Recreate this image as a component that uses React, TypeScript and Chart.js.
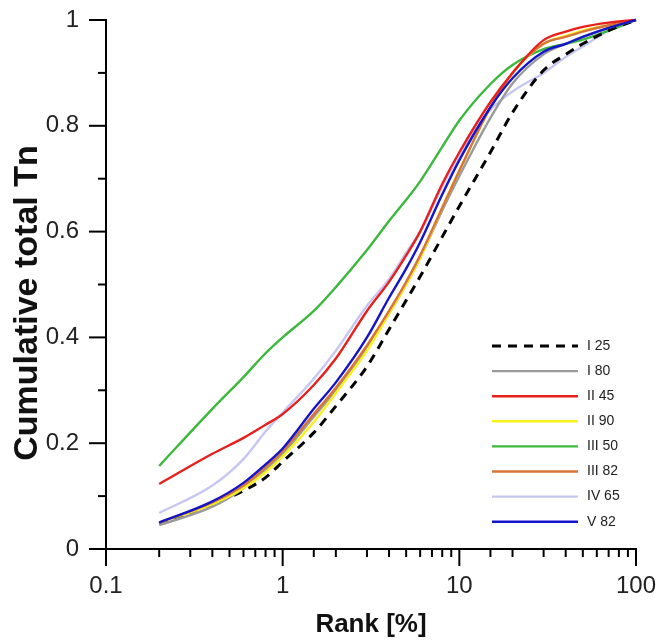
import React, { useEffect, useRef } from "react";
import { Chart, registerables } from "chart.js";

Chart.register(...registerables);

// Rank [%] sample positions
const ranks = [0.2, 0.4, 0.6, 0.8, 1, 1.5, 2, 3, 4, 5, 6, 8, 10, 15, 20, 30, 40, 50, 70, 100];

// Cumulative total Tn per series
const seriesI25 = [0.048, 0.085, 0.11, 0.135, 0.165, 0.22, 0.27, 0.345, 0.415, 0.47, 0.515, 0.59, 0.648, 0.75, 0.825, 0.905, 0.935, 0.955, 0.98, 1];
const seriesI80 = [0.045, 0.08, 0.115, 0.15, 0.18, 0.25, 0.3, 0.38, 0.445, 0.5, 0.55, 0.64, 0.705, 0.815, 0.88, 0.935, 0.955, 0.968, 0.985, 1];
const seriesII45 = [0.123, 0.18, 0.21, 0.235, 0.255, 0.31, 0.36, 0.45, 0.505, 0.555, 0.6, 0.69, 0.75, 0.845, 0.9, 0.962, 0.978, 0.987, 0.995, 1];
const seriesII90 = [0.05, 0.085, 0.115, 0.145, 0.175, 0.24, 0.295, 0.375, 0.445, 0.5, 0.55, 0.645, 0.715, 0.835, 0.9, 0.955, 0.97, 0.98, 0.99, 1];
const seriesIII50 = [0.157, 0.265, 0.325, 0.37, 0.4, 0.45, 0.495, 0.565, 0.62, 0.66, 0.695, 0.76, 0.81, 0.879, 0.915, 0.945, 0.955, 0.963, 0.98, 1];
const seriesIII82 = [0.05, 0.088, 0.12, 0.155, 0.185, 0.255, 0.305, 0.385, 0.45, 0.505, 0.555, 0.645, 0.715, 0.835, 0.9, 0.955, 0.968, 0.978, 0.99, 1];
const seriesIV65 = [0.068, 0.12, 0.17, 0.222, 0.258, 0.322, 0.375, 0.46, 0.51, 0.56, 0.6, 0.685, 0.745, 0.83, 0.865, 0.9, 0.93, 0.95, 0.98, 1];
const seriesV82 = [0.05, 0.09, 0.125, 0.16, 0.19, 0.265, 0.315, 0.4, 0.475, 0.53, 0.58, 0.67, 0.735, 0.835, 0.89, 0.94, 0.955, 0.968, 0.985, 1];

const seriesNames = ["I 25", "I 80", "II 45", "II 90", "III 50", "III 82", "IV 65", "V 82"];
const seriesValues = [seriesI25, seriesI80, seriesII45, seriesII90, seriesIII50, seriesIII82, seriesIV65, seriesV82];
const seriesColors = ["#000000", "#9a9a9a", "#e8201c", "#f7f21a", "#3cb83c", "#d8743a", "#c6c6f2", "#1414c8"];
const seriesDrawOrder = [6, 5, 1, 4, 7, 3, 8, 0];

const xTickLabels = [0.1, 1, 10, 100];
const yTickLabels = [0, 0.2, 0.4, 0.6, 0.8, 1];

const xTitle = "Rank [%]";
const yTitle = "Cumulative total Tn";

const FONT = "'Liberation Sans', Arial, sans-serif";

const isMajorX = (v: number) => xTickLabels.some((t) => Math.abs(t - v) < 1e-9);
const isMajorY = (v: number) => yTickLabels.some((t) => Math.abs(t - v) < 1e-6);

const tickPlugin = {
  id: "customTicks",
  afterDraw(chart: any) {
    const ctx = chart.ctx;
    const xs = chart.scales.x;
    const ys = chart.scales.y;
    const area = chart.chartArea;
    ctx.save();
    ctx.strokeStyle = "#000";
    ctx.lineWidth = 2;
    ctx.lineCap = "butt";
    xs.ticks.forEach((t: any) => {
      const px = xs.getPixelForValue(t.value);
      const len = isMajorX(t.value) ? 17 : 8;
      ctx.beginPath();
      ctx.moveTo(px, area.bottom);
      ctx.lineTo(px, area.bottom + len);
      ctx.stroke();
    });
    ys.ticks.forEach((t: any) => {
      const py = ys.getPixelForValue(t.value);
      const len = isMajorY(t.value) ? 17 : 8;
      ctx.beginPath();
      ctx.moveTo(area.left, py);
      ctx.lineTo(area.left - len, py);
      ctx.stroke();
    });
    ctx.restore();
  },
};

const yTitlePlugin = {
  id: "yTitle",
  afterDraw(chart: any) {
    const ctx = chart.ctx;
    ctx.save();
    ctx.translate(28, 303);
    ctx.rotate(-Math.PI / 2);
    ctx.font = `bold 34px ${FONT}`;
    ctx.fillStyle = "#111";
    ctx.textAlign = "center";
    ctx.textBaseline = "middle";
    ctx.fillText(yTitle, 0, 0);
    ctx.restore();
  },
};

const legendPlugin = {
  id: "insideLegend",
  afterDraw(chart: any) {
    const ctx = chart.ctx;
    const x0 = 492;
    const x1 = 578;
    const tx = 587;
    const y0 = 346;
    const step = 25.1;
    ctx.save();
    chart.data.datasets.forEach((ds: any, i: number) => {
      const y = y0 + i * step;
      ctx.beginPath();
      ctx.strokeStyle = ds.borderColor;
      ctx.lineWidth = ds.borderWidth;
      ctx.setLineDash(ds.borderDash || []);
      ctx.moveTo(x0, y);
      ctx.lineTo(x1, y);
      ctx.stroke();
      ctx.setLineDash([]);
      ctx.fillStyle = "#222";
      ctx.font = `14px ${FONT}`;
      ctx.textBaseline = "middle";
      ctx.textAlign = "left";
      ctx.fillText(ds.label, tx, y);
    });
    ctx.restore();
  },
};

const zeroPadding = (s: any) => {
  s.paddingTop = 0;
  s.paddingBottom = 0;
  s.paddingLeft = 0;
  s.paddingRight = 0;
};

export default function App() {
  const canvasRef = useRef<HTMLCanvasElement | null>(null);

  useEffect(() => {
    if (!canvasRef.current) return;
    const datasets = seriesNames.map((name, i) => ({
      label: name,
      data: ranks.map((r, j) => ({ x: r, y: seriesValues[i][j] })),
      borderColor: seriesColors[i],
      backgroundColor: seriesColors[i],
      borderWidth: i === 0 ? 3 : 2.4,
      borderDash: i === 0 ? [9, 7] : [],
      pointRadius: 0,
      fill: false,
      cubicInterpolationMode: "monotone" as const,
      order: seriesDrawOrder[i],
      clip: false as any,
    }));

    const chart = new Chart(canvasRef.current, {
      type: "line",
      data: { datasets },
      options: {
        animation: false,
        responsive: false,
        layout: { padding: { top: 20, right: 22, left: 0, bottom: 0 } },
        plugins: {
          legend: { display: false },
          tooltip: { enabled: false },
        },
        scales: {
          x: {
            type: "logarithmic",
            min: 0.1,
            max: 100,
            afterFit: (s: any) => {
              s.height = 93;
              zeroPadding(s);
            },
            border: { display: true, color: "#000", width: 2 },
            grid: {
              display: true,
              drawOnChartArea: false,
              drawTicks: true,
              tickLength: 17,
              tickColor: "rgba(0,0,0,0)",
            },
            ticks: {
              autoSkip: false,
              maxRotation: 0,
              padding: 6,
              color: "#222",
              font: { family: FONT, size: 24 },
              callback: (v: any) => (isMajorX(Number(v)) ? String(Number(v)) : ""),
            },
            title: {
              display: true,
              text: xTitle,
              color: "#111",
              font: { family: FONT, size: 26, weight: "bold" },
              padding: { top: 0, bottom: 2 },
            },
          },
          y: {
            type: "linear",
            min: 0,
            max: 1,
            afterFit: (s: any) => {
              s.width = 106;
              zeroPadding(s);
            },
            border: { display: true, color: "#000", width: 2 },
            grid: {
              display: true,
              drawOnChartArea: false,
              drawTicks: true,
              tickLength: 17,
              tickColor: "rgba(0,0,0,0)",
            },
            ticks: {
              stepSize: 0.1,
              autoSkip: false,
              padding: 10,
              color: "#222",
              font: { family: FONT, size: 24 },
              callback: (v: any) => {
                const n = Number(v);
                return isMajorY(n) ? String(Math.round(n * 10) / 10) : "";
              },
            },
            title: { display: false },
          },
        },
      },
      plugins: [tickPlugin, yTitlePlugin, legendPlugin],
    });

    return () => chart.destroy();
  }, []);

  return (
    <canvas
      ref={canvasRef}
      width={658}
      height={642}
      style={{ position: "absolute", left: 0, top: 0, display: "block", width: 658, height: 642 }}
    />
  );
}
